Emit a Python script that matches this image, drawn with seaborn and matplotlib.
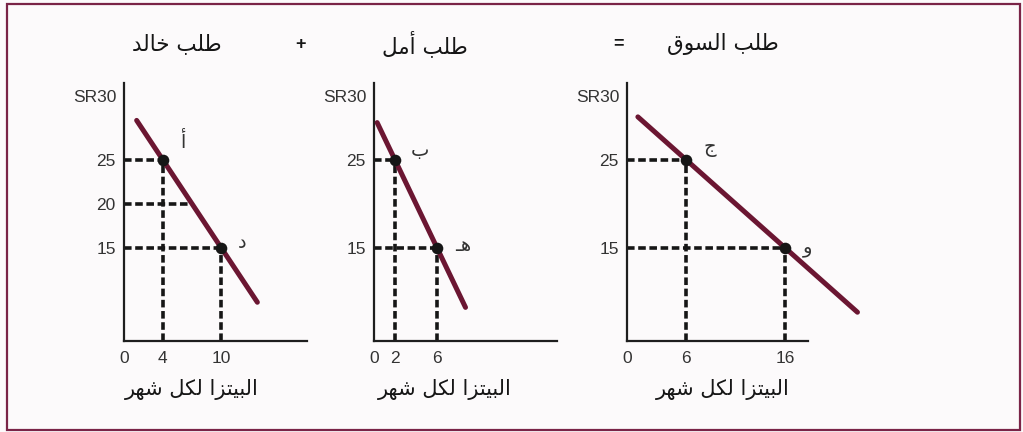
import matplotlib
matplotlib.use("Agg")
import matplotlib.pyplot as plt
import seaborn as sns
import pandas as pd
from matplotlib.patches import Rectangle

# ---------------- data ----------------
panel_titles = ["طلب خالد", "طلب أمل", "طلب السوق"]
operators = ["+", "="]
x_label = "البيتزا لكل شهر"
price_label = "SR30"
market_label = "طلب السوق"

# Khalid
khalid_q = [4, 10]
khalid_p = [25, 15]
khalid_names = ["أ", "د"]
khalid_line_q = [1.3, 13.7]
khalid_xticks = [0, 4, 10]
khalid_yticks = [15, 20, 25]
khalid_extra_q = [7]      # horizontal guide at price 20
khalid_extra_p = [20]

# Amal
amal_q = [2, 6]
amal_p = [25, 15]
amal_names = ["ب", "هـ"]
amal_line_q = [0.3, 8.7]
amal_xticks = [0, 2, 6]
amal_yticks = [15, 25]

# Market
market_q = [6, 16]
market_p = [25, 15]
market_names = ["ج", "و"]
market_line_q = [1.1, 23.3]
market_xticks = [0, 6, 16]
market_yticks = [15, 25]

# ------------- minimal Arabic shaping (matplotlib has no text shaping) -------------
FORMS = {  # iso, fin, ini, med
    'ا': ('\uFE8D', '\uFE8E', None, None),
    'أ': ('\uFE83', '\uFE84', None, None),
    'ب': ('\uFE8F', '\uFE90', '\uFE91', '\uFE92'),
    'ت': ('\uFE95', '\uFE96', '\uFE97', '\uFE98'),
    'ج': ('\uFE9D', '\uFE9E', '\uFE9F', '\uFEA0'),
    'خ': ('\uFEA5', '\uFEA6', '\uFEA7', '\uFEA8'),
    'د': ('\uFEA9', '\uFEAA', None, None),
    'ر': ('\uFEAD', '\uFEAE', None, None),
    'ز': ('\uFEAF', '\uFEB0', None, None),
    'س': ('\uFEB1', '\uFEB2', '\uFEB3', '\uFEB4'),
    'ش': ('\uFEB5', '\uFEB6', '\uFEB7', '\uFEB8'),
    'ط': ('\uFEC1', '\uFEC2', '\uFEC3', '\uFEC4'),
    'ق': ('\uFED5', '\uFED6', '\uFED7', '\uFED8'),
    'ك': ('\uFED9', '\uFEDA', '\uFEDB', '\uFEDC'),
    'ل': ('\uFEDD', '\uFEDE', '\uFEDF', '\uFEE0'),
    'م': ('\uFEE1', '\uFEE2', '\uFEE3', '\uFEE4'),
    'ه': ('\uFEE9', '\uFEEA', '\uFEEB', '\uFEEC'),
    'و': ('\uFEED', '\uFEEE', None, None),
    'ي': ('\uFEF1', '\uFEF2', '\uFEF3', '\uFEF4'),
    'ـ': ('ـ', 'ـ', 'ـ', 'ـ'),
}


def dual(c):
    return c in FORMS and FORMS[c][2] is not None


def shape(text):
    out = []
    n = len(text)
    for i, c in enumerate(text):
        if c not in FORMS:
            out.append(c)
            continue
        prev_c = text[i - 1] if i > 0 else None
        next_c = text[i + 1] if i < n - 1 else None
        jp = prev_c is not None and dual(prev_c)
        jn = next_c is not None and next_c in FORMS and dual(c)
        iso, fin, ini, med = FORMS[c]
        if jp and jn:
            out.append(med)
        elif jp:
            out.append(fin)
        elif jn:
            out.append(ini)
        else:
            out.append(iso)
    return ''.join(out)[::-1]


# ---------------- style ----------------
sns.set_style("white")
plt.rcParams['font.family'] = ['Liberation Sans', 'DejaVu Sans']

BG = '#fcfafb'
CURVE = '#6b1632'
FRAME = '#7a2447'
DARK = '#161616'
TXT = '#333333'

W, H = 1023, 432
fig = plt.figure(figsize=(W / 100, H / 100), dpi=100, facecolor=BG)

fig.patches.append(Rectangle((7 / W, 2 / H), 1013 / W, 426 / H, transform=fig.transFigure,
                             fill=False, edgecolor=FRAME, linewidth=1.6))

ylim = (4.43, 33.75)
panels = [
    dict(q=khalid_q, p=khalid_p, names=khalid_names, lq=khalid_line_q, xt=khalid_xticks,
         yt=khalid_yticks, left=124, width=183, xmax=18.8),
    dict(q=amal_q, p=amal_p, names=amal_names, lq=amal_line_q, xt=amal_xticks,
         yt=amal_yticks, left=374, width=183, xmax=17.4),
    dict(q=market_q, p=market_p, names=market_names, lq=market_line_q, xt=market_xticks,
         yt=market_yticks, left=627, width=181, xmax=18.3),
]
label_offsets = [[(13, 13), (12, 4)], [(11, 7), (13, 2)], [(12, 9), (13, 0)]]
xlabel_center = [192, 445, 723]
title_center = [177, 425, 723]

axis_bottom_px = 341
axis_top_px = 83

dash = (0, (2.1, 1.0))
DLW = 2.6

for k, pn in enumerate(panels):
    ax = fig.add_axes([pn['left'] / W, (H - axis_bottom_px) / H, pn['width'] / W,
                       (axis_bottom_px - axis_top_px) / H])
    ax.set_facecolor('none')
    ax.set_xlim(0, pn['xmax'])
    ax.set_ylim(*ylim)

    q1, q2 = pn['q']
    p1, p2 = pn['p']
    slope = (p2 - p1) / (q2 - q1)
    lq = pn['lq']
    lp = [p1 + slope * (x - q1) for x in lq]
    df_line = pd.DataFrame({'q': lq, 'p': lp})

    # dashed guides
    for x, y in zip(pn['q'], pn['p']):
        ax.plot([0, x], [y, y], color=DARK, lw=DLW, linestyle=dash, clip_on=False, zorder=2)
        ax.plot([x, x], [ylim[0], y], color=DARK, lw=DLW, linestyle=dash, clip_on=False, zorder=2)
    if k == 0:
        for x, y in zip(khalid_extra_q, khalid_extra_p):
            ax.plot([0, x], [y, y], color=DARK, lw=DLW, linestyle=dash, zorder=2)

    sns.lineplot(data=df_line, x='q', y='p', ax=ax, color=CURVE, lw=3.6, zorder=3)
    for l in ax.lines:
        l.set_clip_on(False)
    df_pts = pd.DataFrame({'q': pn['q'], 'p': pn['p']})
    sns.scatterplot(data=df_pts, x='q', y='p', ax=ax, color=DARK, s=70, edgecolor=DARK,
                    linewidth=0, zorder=4, clip_on=False)

    for (x, y), nm, off in zip(zip(pn['q'], pn['p']), pn['names'], label_offsets[k]):
        ax.annotate(shape(nm), (x, y), xytext=off, textcoords='offset points',
                    ha='left', va='center', fontsize=14, color=TXT, family='DejaVu Sans')

    ax.set_xticks(pn['xt'])
    ax.set_xticklabels([str(v) for v in pn['xt']])
    ax.set_yticks(pn['yt'])
    ax.set_yticklabels([str(v) for v in pn['yt']])
    ax.tick_params(length=0, labelsize=12.5, labelcolor=TXT)
    ax.tick_params(axis='x', pad=7)
    ax.tick_params(axis='y', pad=6)
    ax.set_xlabel('')
    ax.set_ylabel('')
    for s in ['top', 'right']:
        ax.spines[s].set_visible(False)
    for s in ['left', 'bottom']:
        ax.spines[s].set_color('#1e1e1e')
        ax.spines[s].set_linewidth(1.6)
    ax.grid(False)

    ax.text(-7 / pn['width'], (axis_bottom_px - 97) / (axis_bottom_px - axis_top_px), price_label,
            transform=ax.transAxes, ha='right', va='center', fontsize=12.5, color=TXT)

    fig.text(xlabel_center[k] / W, 1 - 389 / H, shape(x_label), ha='center', va='center',
             fontsize=15, color=DARK, family='DejaVu Sans')
    fig.text(title_center[k] / W, 1 - 44 / H, shape(panel_titles[k]), ha='center', va='center',
             fontsize=15.5, color=DARK, family='DejaVu Sans')

    if k == 2:
        ax.annotate(shape(market_label), (lq[1], lp[1]), xytext=(11, -4), textcoords='offset points',
                    ha='left', va='center', fontsize=15.5, color=DARK, family='DejaVu Sans')

for xpx, op in zip([301, 619], operators):
    fig.text(xpx / W, 1 - 44 / H, op, ha='center', va='center', fontsize=13,
             fontweight='bold', color=DARK)

fig.savefig('out.png', dpi=100, facecolor=BG)
